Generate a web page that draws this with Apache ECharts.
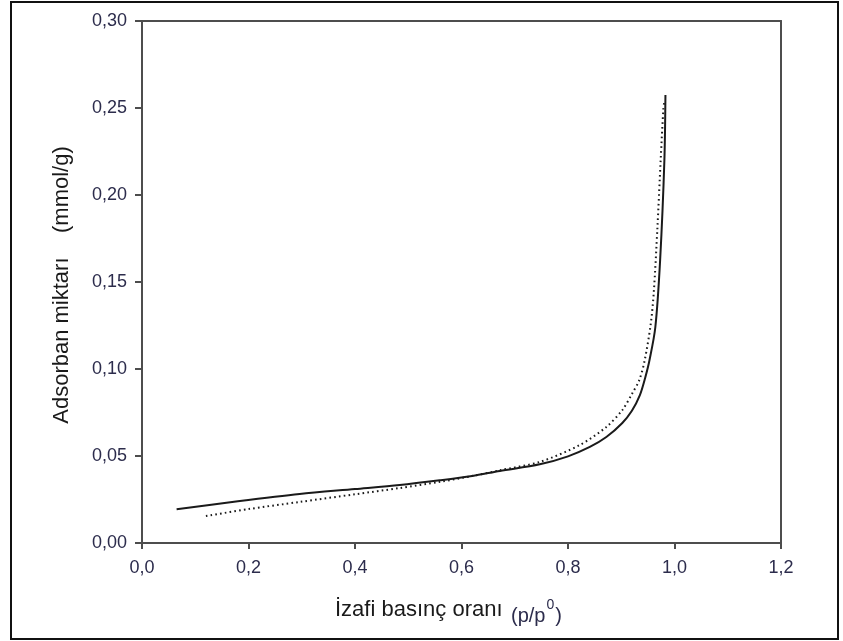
<!DOCTYPE html>
<html>
<head>
<meta charset="utf-8">
<script src="https://cdn.jsdelivr.net/npm/echarts@6/dist/echarts.min.js"></script>
<style>
  html, body { margin: 0; padding: 0; background: #fff; }
  #chart { width: 843px; height: 641px; }
</style>
</head>
<body>
<div id="chart"></div>
<script>
// Adsorption branch (solid line): relative pressure and adsorbed amount
const adsX = [0.065, 0.18, 0.296, 0.40, 0.484, 0.559, 0.62, 0.672, 0.747, 0.80, 0.841, 0.872, 0.902, 0.920, 0.935, 0.945, 0.953, 0.964, 0.973, 0.981, 0.983];
const adsY = [0.0194, 0.0240, 0.0282, 0.0310, 0.0333, 0.0360, 0.0385, 0.0414, 0.0452, 0.0498, 0.0552, 0.0609, 0.0690, 0.0760, 0.0850, 0.0950, 0.1050, 0.1240, 0.1626, 0.2200, 0.2575];

// Desorption branch (dotted line)
const desX = [0.120, 0.20, 0.296, 0.40, 0.484, 0.56, 0.62, 0.672, 0.747, 0.822, 0.872, 0.902, 0.921, 0.934, 0.944, 0.955, 0.961, 0.968, 0.974, 0.979, 0.981];
const desY = [0.0155, 0.0195, 0.0236, 0.0280, 0.0316, 0.0352, 0.0385, 0.0418, 0.0466, 0.0563, 0.0667, 0.0764, 0.0862, 0.0937, 0.1050, 0.1250, 0.1437, 0.1816, 0.2200, 0.2490, 0.2540];

// Axis ranges and tick step
const xMin = 0, xMax = 1.2, xStep = 0.2;
const yMin = 0, yMax = 0.30, yStep = 0.05;

const xTitle = 'İzafi basınç oranı';
const yTitle = 'Adsorban miktarı    (mmol/g)';

const pair = (xs, ys) => xs.map((x, i) => [x, ys[i]]);
const comma = (v, d) => v.toFixed(d).replace('.', ',');

const sans = "'Liberation Sans', Arial, sans-serif";
const axisColor = '#4d4d4d';
const labelColor = '#2c2c4c';

const chart = echarts.init(document.getElementById('chart'), null, { renderer: 'canvas' });

const frameAxis = {
  type: 'value',
  axisLine: { show: true, onZero: false, lineStyle: { color: axisColor, width: 2 } },
  axisTick: { show: false }, axisLabel: { show: false }, splitLine: { show: false }
};

chart.setOption({
  backgroundColor: '#ffffff',
  animation: false,
  grid: { left: 142, right: 62, top: 21, bottom: 98 },
  xAxis: [{
    type: 'value', min: xMin, max: xMax, interval: xStep,
    axisLine: { show: true, onZero: false, lineStyle: { color: axisColor, width: 2 } },
    axisTick: { show: true, inside: false, length: 6, lineStyle: { color: axisColor, width: 2 } },
    axisLabel: { margin: 16, color: labelColor, fontFamily: sans, fontSize: 18, formatter: v => comma(v, 1) },
    splitLine: { show: false }
  }, Object.assign({}, frameAxis, { position: 'top', min: xMin, max: xMax })],
  yAxis: [{
    type: 'value', min: yMin, max: yMax, interval: yStep,
    axisLine: { show: true, onZero: false, lineStyle: { color: axisColor, width: 2 } },
    axisTick: { show: true, inside: false, length: 7, lineStyle: { color: axisColor, width: 2 } },
    axisLabel: { margin: 15, color: labelColor, fontFamily: sans, fontSize: 18, formatter: v => comma(v, 2) },
    splitLine: { show: false }
  }, Object.assign({}, frameAxis, { position: 'right', min: yMin, max: yMax })],
  series: [{
    name: 'adsorpsiyon',
    type: 'line',
    data: pair(adsX, adsY),
    showSymbol: false,
    smooth: 0.3,
    lineStyle: { color: '#1a1a1a', width: 2 }
  }, {
    name: 'desorpsiyon',
    type: 'line',
    data: pair(desX, desY),
    showSymbol: false,
    smooth: 0.3,
    lineStyle: { color: '#1a1a1a', width: 2, type: [1.6, 3.2] }
  }],
  graphic: [{
    type: 'rect',
    shape: { x: 11, y: 2, width: 827, height: 637 },
    style: { fill: 'none', stroke: '#111', lineWidth: 2 },
    silent: true
  }, {
    type: 'text',
    left: 335, top: 599,
    style: { text: xTitle, fill: '#1a1a1a', font: "22px " + sans }
  }, {
    type: 'text',
    left: 511, top: 598,
    style: {
      text: '{a|(p/p}{s|0}{a|)}',
      rich: {
        a: { fontFamily: sans, fontSize: 20, fill: labelColor, lineHeight: 28, verticalAlign: 'bottom' },
        s: { fontFamily: sans, fontSize: 14, fill: labelColor, lineHeight: 28, verticalAlign: 'top', padding: [0, 1, 0, 1] }
      }
    }
  }, {
    type: 'text',
    x: 62, y: 285,
    rotation: Math.PI / 2,
    style: { text: yTitle, fill: '#1a1a1a', font: "22px " + sans, align: 'center', verticalAlign: 'middle' }
  }]
});
</script>
</body>
</html>
